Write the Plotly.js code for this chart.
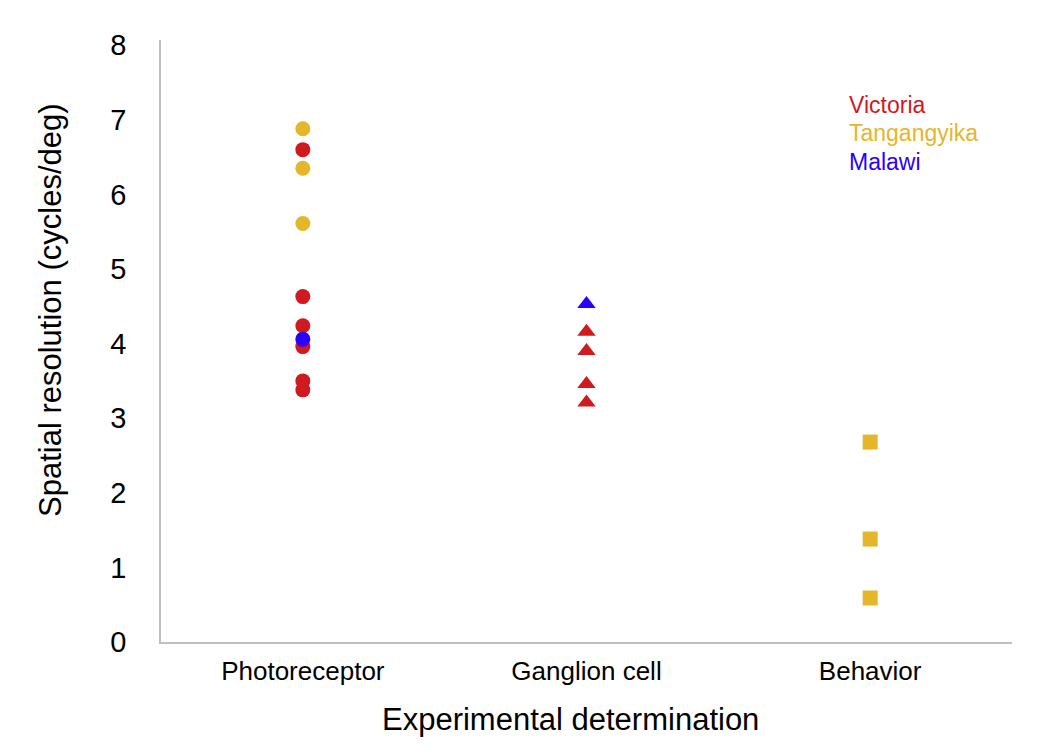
<!DOCTYPE html>
<html>
<head>
<meta charset="utf-8">
<script src="https://cdn.plot.ly/plotly-3.0.1.min.js"></script>
<style>
  html, body { margin: 0; padding: 0; background: #fff; }
  #chart { width: 1050px; height: 752px; }
</style>
</head>
<body>
<div id="chart"></div>
<script>
// categories on the x axis
const categories = ["Photoreceptor", "Ganglion cell", "Behavior"];
const lakes = ["Victoria", "Tangangyika", "Malawi"];

// spatial resolution (cycles/deg)
const photoVictoria = [6.60, 4.63, 4.24, 3.96, 3.50, 3.38];
const photoTanganyika = [6.88, 6.35, 5.61];
const photoMalawi = [4.06];
const ganglionVictoria = [4.16, 3.90, 3.46, 3.21];
const ganglionMalawi = [4.53];
const behaviorTanganyika = [2.68, 1.38, 0.59];

const red = '#cf1a1f';
const yellow = '#e6b62a';
const blue = '#2b00ff';

function pts(cat, vals, color, symbol, size) {
    return {
        x: vals.map(() => categories.indexOf(cat)),
        y: vals,
        type: 'scatter',
        mode: 'markers',
        marker: {color: color, symbol: symbol, size: size},
        hoverinfo: 'y'
    };
}

const data = [
    pts("Photoreceptor", photoTanganyika, yellow, 'circle', 15),
    pts("Photoreceptor", photoVictoria, red, 'circle', 15),
    pts("Photoreceptor", photoMalawi, blue, 'circle', 15),
    pts("Ganglion cell", ganglionVictoria, red, 'triangle-up', 16),
    pts("Ganglion cell", ganglionMalawi, blue, 'triangle-up', 16),
    pts("Behavior", behaviorTanganyika, yellow, 'square', 15)
];

const lakeColors = [red, yellow, blue];
const legendY = [105, 133, 162]; // pixel rows of the colored lake labels

// pixel -> paper helpers (plot area 161..1012 x 40..642)
const px = x => (x - 161) / 851;
const py = y => (642 - y) / 602;

const layout = {
    width: 1050,
    height: 752,
    margin: {l: 161, r: 38, t: 40, b: 110},
    paper_bgcolor: '#fff',
    plot_bgcolor: '#fff',
    font: {family: 'Liberation Sans, Arial, sans-serif', color: '#000'},
    showlegend: false,
    xaxis: {
        range: [-0.5, 2.5],
        tickvals: [0, 1, 2],
        ticktext: categories,
        showgrid: false,
        zeroline: false,
        showline: true,
        linecolor: '#bfbfbf',
        linewidth: 1.5,
        ticks: '',
        ticklabelstandoff: 5,
        tickfont: {size: 26},
        automargin: false
    },
    yaxis: {
        range: [0, 8.07],
        tickvals: [0, 1, 2, 3, 4, 5, 6, 7, 8],
        showgrid: false,
        zeroline: false,
        showline: true,
        linecolor: '#bfbfbf',
        linewidth: 1.5,
        ticks: '',
        ticklabelstandoff: 27,
        tickfont: {size: 29},
        automargin: false
    },
    annotations: lakes.map((name, i) => ({
        text: name,
        xref: 'paper', yref: 'paper',
        x: px(847), y: py(legendY[i]),
        xanchor: 'left', yanchor: 'middle',
        showarrow: false,
        font: {size: 23, color: lakeColors[i]}
    })).concat([{
        text: 'Spatial resolution (cycles/deg)',
        xref: 'paper', yref: 'paper',
        x: px(50), y: py(310),
        xanchor: 'center', yanchor: 'middle',
        textangle: -90,
        showarrow: false,
        font: {size: 31}
    }, {
        text: 'Experimental determination',
        xref: 'paper', yref: 'paper',
        x: px(570), y: py(719),
        xanchor: 'center', yanchor: 'middle',
        showarrow: false,
        font: {size: 31}
    }])
};

Plotly.newPlot('chart', data, layout, {displayModeBar: false});
</script>
</body>
</html>
